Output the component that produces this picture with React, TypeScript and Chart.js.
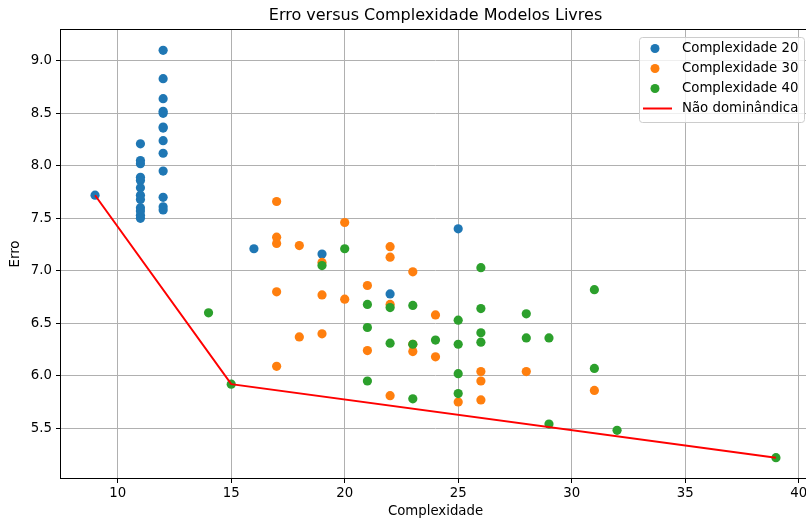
import { useEffect, useRef } from "react";
import { Chart, registerables } from "chart.js";

Chart.register(...registerables);

const TITLE = "Erro versus Complexidade Modelos Livres";
const X_LABEL = "Complexidade";
const Y_LABEL = "Erro";
const X_TICKS = [10, 15, 20, 25, 30, 35, 40];
const Y_TICKS = [5.5, 6.0, 6.5, 7.0, 7.5, 8.0, 8.5, 9.0];
const SERIES_NAMES = ["Complexidade 20", "Complexidade 30", "Complexidade 40", "Não dominândica"];
const SERIES_COLORS = ["#1f77b4", "#ff7f0e", "#2ca02c", "#ff0000"];

const C20_X = [9, 11, 11, 11, 11, 11, 11, 11, 11, 11, 11, 11, 11, 12, 12, 12, 12, 12, 12, 12, 12, 12, 12, 12, 12, 12, 16, 19, 22, 25];
const C20_Y = [7.72, 8.21, 8.05, 8.02, 7.89, 7.86, 7.79, 7.72, 7.68, 7.6, 7.57, 7.53, 7.5, 9.1, 8.83, 8.64, 8.52, 8.5, 8.37, 8.36, 8.24, 8.12, 7.95, 7.7, 7.61, 7.58, 7.21, 7.16, 6.78, 7.4];

const C30_X = [17, 17, 17, 17, 17, 18, 18, 19, 19, 19, 20, 20, 21, 21, 22, 22, 22, 22, 23, 23, 23, 24, 24, 25, 26, 26, 26, 28, 31];
const C30_Y = [7.66, 7.32, 7.26, 6.8, 6.09, 7.24, 6.37, 7.08, 6.77, 6.4, 7.46, 6.73, 6.86, 6.24, 7.23, 7.13, 6.68, 5.81, 6.99, 6.3, 6.23, 6.58, 6.18, 5.75, 6.04, 5.95, 5.77, 6.04, 5.86];

const C40_X = [14, 15, 19, 20, 21, 21, 21, 22, 22, 23, 23, 23, 24, 25, 25, 25, 25, 26, 26, 26, 26, 28, 28, 29, 29, 31, 31, 32, 39];
const C40_Y = [6.6, 5.92, 7.05, 7.21, 6.68, 6.46, 5.95, 6.65, 6.31, 6.67, 6.3, 5.78, 6.34, 6.53, 6.3, 6.02, 5.83, 7.03, 6.64, 6.41, 6.32, 6.59, 6.36, 6.36, 5.54, 6.82, 6.07, 5.48, 5.22];

const FRONT_X = [9, 15, 39];
const FRONT_Y = [7.72, 5.92, 5.22];

const FONT = "'DejaVu Sans', sans-serif";
const FS = 13.3;

const pts = (xs: number[], ys: number[]) => xs.map((x, i) => ({ x, y: ys[i] }));

const framePlugin = {
  id: "frameAndTitle",
  afterDatasetsDraw(chart: any) {
    const { ctx, chartArea } = chart;
    ctx.save();
    ctx.strokeStyle = "#000000";
    ctx.lineWidth = 1;
    const l = Math.round(chartArea.left) - 0.5;
    const t = Math.round(chartArea.top) - 0.5;
    const r = Math.round(chartArea.right) + 0.5;
    const b = Math.round(chartArea.bottom) + 0.5;
    ctx.strokeRect(l, t, r - l, b - t);
    ctx.fillStyle = "#000000";
    ctx.font = `16px ${FONT}`;
    ctx.textAlign = "center";
    ctx.textBaseline = "middle";
    ctx.fillText(TITLE, (chartArea.left + chartArea.right) / 2, 16);
    ctx.restore();
  },
};

const legendPlugin = {
  id: "mplLegend",
  afterDraw(chart: any) {
    const { ctx, chartArea } = chart;
    const w = 165;
    const h = 85;
    const right = chartArea.right - 6;
    const top = chartArea.top + 7;
    const left = right - w;
    ctx.save();
    ctx.beginPath();
    ctx.roundRect(left + 0.5, top + 0.5, w, h, 3);
    ctx.fillStyle = "rgba(255,255,255,0.8)";
    ctx.fill();
    ctx.strokeStyle = "#cccccc";
    ctx.lineWidth = 1;
    ctx.stroke();
    ctx.font = `${FS}px ${FONT}`;
    ctx.textAlign = "left";
    ctx.textBaseline = "middle";
    SERIES_NAMES.forEach((name, i) => {
      const y = top + 11.5 + i * 20;
      if (i < 3) {
        ctx.beginPath();
        ctx.arc(left + 16, y, 4.5, 0, Math.PI * 2);
        ctx.fillStyle = SERIES_COLORS[i];
        ctx.fill();
      } else {
        ctx.beginPath();
        ctx.moveTo(left + 4, y);
        ctx.lineTo(left + 33, y);
        ctx.strokeStyle = SERIES_COLORS[i];
        ctx.lineWidth = 2;
        ctx.stroke();
      }
      ctx.fillStyle = "#000000";
      ctx.fillText(name, left + 43, y + 0.5);
    });
    ctx.restore();
  },
};

export default function App() {
  const ref = useRef<HTMLCanvasElement | null>(null);

  useEffect(() => {
    if (!ref.current) return;
    const scatterDs = (i: number, xs: number[], ys: number[], order: number) => ({
      label: SERIES_NAMES[i],
      data: pts(xs, ys),
      backgroundColor: SERIES_COLORS[i],
      borderColor: SERIES_COLORS[i],
      borderWidth: 0,
      pointRadius: 4.6,
      pointHoverRadius: 4.6,
      order,
    });
    const chart = new Chart(ref.current, {
      type: "scatter",
      data: {
        datasets: [
          scatterDs(0, C20_X, C20_Y, 3),
          scatterDs(1, C30_X, C30_Y, 2),
          scatterDs(2, C40_X, C40_Y, 1),
          {
            label: SERIES_NAMES[3],
            data: pts(FRONT_X, FRONT_Y),
            showLine: true,
            borderColor: SERIES_COLORS[3],
            backgroundColor: SERIES_COLORS[3],
            borderWidth: 2,
            pointRadius: 0,
            pointHoverRadius: 0,
            order: 0,
          } as any,
        ],
      },
      options: {
        responsive: false,
        animation: false,
        events: [],
        layout: { autoPadding: false, padding: { top: 30, right: 2, left: 0, bottom: 0 } },
        plugins: {
          legend: { display: false },
          title: { display: false },
          tooltip: { enabled: false },
        },
        scales: {
          x: {
            type: "linear",
            min: 7.5,
            max: 40.5,
            afterBuildTicks: (s: any) => {
              s.ticks = X_TICKS.map((v) => ({ value: v }));
            },
            afterFit: (s: any) => {
              s.height = 43;
              s.paddingLeft = 0;
              s.paddingRight = 0;
            },
            ticks: {
              color: "#000000",
              font: { family: FONT, size: FS },
              padding: 3,
              maxRotation: 0,
              autoSkip: false,
              callback: (v: any) => String(v),
            },
            grid: {
              color: "#b0b0b0",
              lineWidth: 1,
              drawTicks: true,
              tickLength: 5,
              tickColor: "#000000",
              tickWidth: 1,
            },
            border: { display: false },
            title: {
              display: true,
              text: X_LABEL,
              color: "#000000",
              font: { family: FONT, size: FS },
              padding: { top: 0, bottom: 1.5 },
            },
          },
          y: {
            type: "linear",
            min: 5.026,
            max: 9.294,
            afterBuildTicks: (s: any) => {
              s.ticks = Y_TICKS.map((v) => ({ value: v }));
            },
            afterFit: (s: any) => {
              s.width = 61;
              s.paddingTop = 0;
              s.paddingBottom = 0;
            },
            ticks: {
              color: "#000000",
              font: { family: FONT, size: FS },
              padding: 4,
              autoSkip: false,
              callback: (v: any) => Number(v).toFixed(1),
            },
            grid: {
              color: "#b0b0b0",
              lineWidth: 1,
              drawTicks: true,
              tickLength: 5,
              tickColor: "#000000",
              tickWidth: 1,
            },
            border: { display: false },
            title: {
              display: true,
              text: Y_LABEL,
              color: "#000000",
              font: { family: FONT, size: FS },
              padding: { top: 8, bottom: 0 },
            },
          },
        },
      },
      plugins: [framePlugin, legendPlugin],
    });
    return () => chart.destroy();
  }, []);

  return (
    <div style={{ position: "fixed", left: 0, top: 0, width: 806, height: 521, overflow: "hidden", background: "#ffffff" }}>
      <canvas ref={ref} width={812} height={521} style={{ display: "block", width: 812, height: 521 }} />
    </div>
  );
}
